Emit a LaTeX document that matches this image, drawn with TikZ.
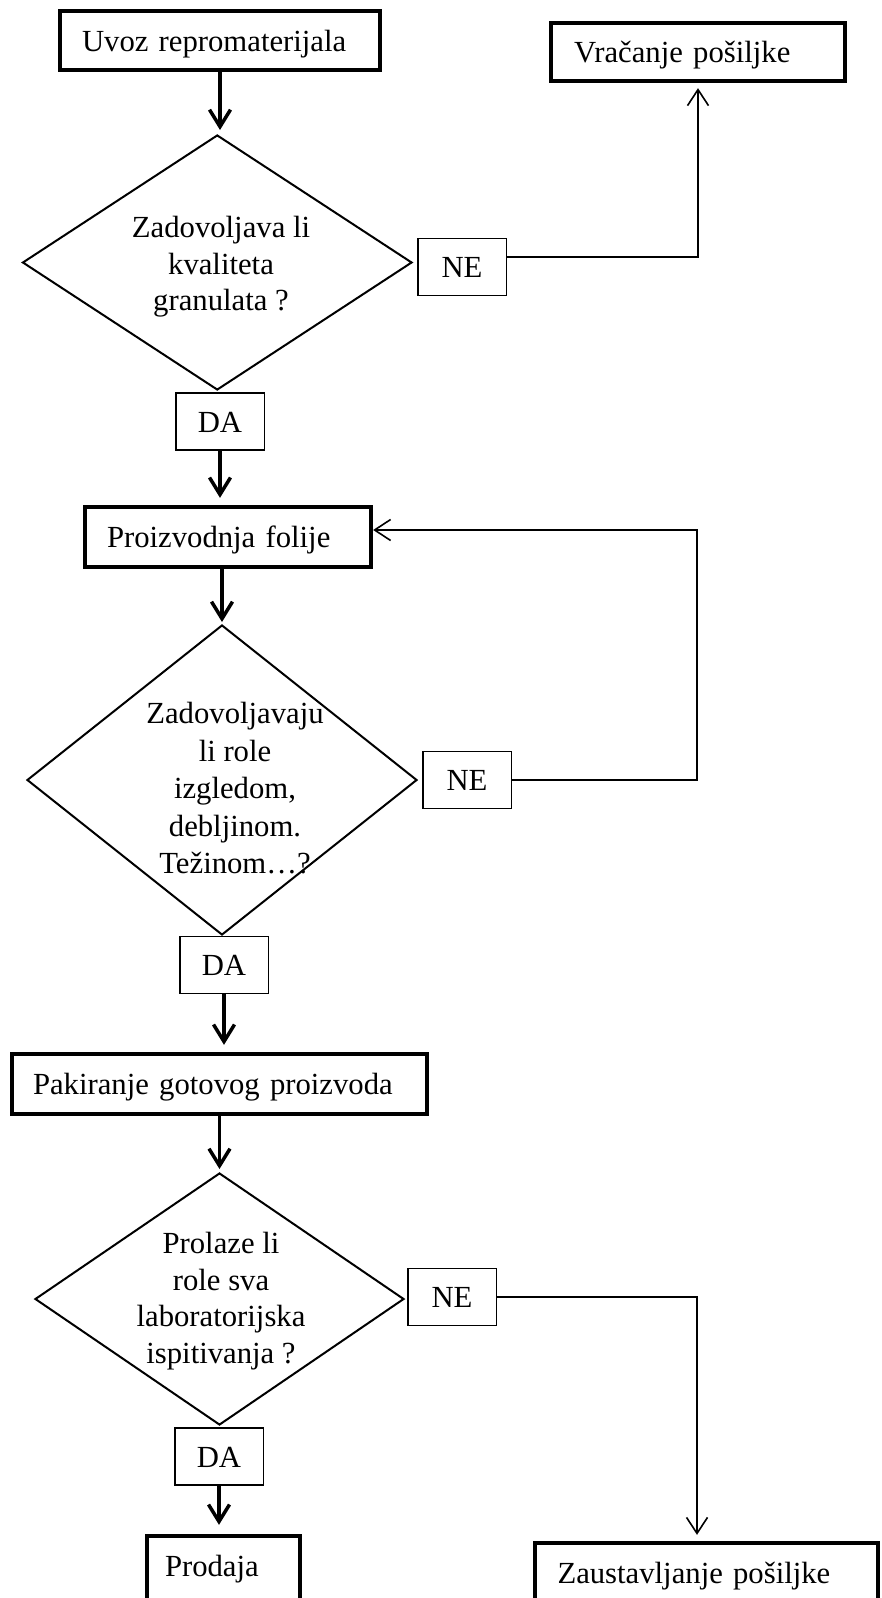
\documentclass[tikz,border=0pt]{standalone}
\usepackage{fontspec}
\setmainfont{Liberation Serif}
\usetikzlibrary{shapes.geometric,arrows.meta}
\begin{document}
\begin{tikzpicture}[x=1pt,y=-1pt,
  font=\fontsize{30.7}{36.5}\selectfont,
  bigbox/.style={draw, rectangle, line width=4.3pt, inner xsep=22pt, inner ysep=0pt,
    align=left, text height=28pt, text depth=7pt, minimum height=60pt},
  tagbox/.style={draw, rectangle, line width=1.5pt, inner sep=0pt,
    minimum width=88.5pt, minimum height=57pt, text height=28pt, text depth=7pt},
  decision/.style={draw, diamond, line width=2pt, inner sep=0pt},
  qtext/.style={align=center, anchor=north, inner sep=0pt},
  flow/.style={line width=3.5pt, -{Straight Barb[length=17pt,width=21pt]}},
  back/.style={line width=1.6pt, -{Straight Barb[length=16pt,width=21pt]}}]
\useasboundingbox (0,0) rectangle (881,1598);
\clip (0,0) rectangle (881,1598);

% process boxes
\node[bigbox, text width=276pt, minimum height=59pt] (uvoz) at (220,40.5) {Uvoz repromaterijala};
\node[bigbox, inner xsep=23pt, text width=248pt, minimum height=58pt] (vrac) at (698,52) {Vračanje pošiljke};
\node[bigbox, text width=242pt] (proiz) at (228,537) {Proizvodnja folije};
\node[bigbox, inner xsep=21pt, text width=373pt] (pak) at (219.5,1084) {Pakiranje gotovog proizvoda};
\node[bigbox, inner xsep=18pt, text width=117pt, minimum height=66pt, text depth=14pt] (prod) at (223.5,1569) {Prodaja};
\node[bigbox, inner xsep=22.5pt, text width=298pt, minimum height=66pt, text depth=14pt] (zaus) at (706.5,1576) {Zaustavljanje pošiljke};

% decisions
\node[decision, minimum width=389.5pt, minimum height=255pt] (d1) at (217.25,262.5) {};
\node[decision, minimum width=390pt, minimum height=310pt] (d2) at (222,780) {};
\node[decision, minimum width=369pt, minimum height=252pt] (d3) at (219.5,1299) {};
\node[qtext] (q1) at (221,216) {Zadovoljava li\\kvaliteta\\granulata ?};
\node[qtext, font=\fontsize{30.7}{37.5}\selectfont] (q2) at (235,702) {Zadovoljavaju\\li role\\izgledom,\\debljinom.\\Težinom…?};
\node[qtext] (q3) at (221,1232) {Prolaze li\\role sva\\laboratorijska\\ispitivanja ?};

% answer tags
\node[tagbox] (ne1) at (462,267) {NE};
\node[tagbox] (ne2) at (467,780) {NE};
\node[tagbox] (ne3) at (452,1297) {NE};
\node[tagbox] (da1) at (220,421.5) {DA};
\node[tagbox] (da2) at (224,965) {DA};
\node[tagbox] (da3) at (219,1456.5) {DA};

% main flow
\draw[flow, shorten >=4pt] (uvoz.south) -- (uvoz.south |- d1.north);
\draw[flow, shorten >=7pt] (da1.south) -- (da1.south |- proiz.north);
\draw[flow, shorten >=2pt] (d2.north |- proiz.south) -- (d2.north);
\draw[flow, shorten >=7pt] (da2.south) -- (da2.south |- pak.north);
\draw[flow, shorten >=3pt] (d3.north |- pak.south) -- (d3.north);
\draw[flow, shorten >=9pt] (da3.south) -- (da3.south |- prod.north);

% NE branches
\draw[back, shorten >=5pt] ([yshift=10pt]ne1.east) -| (vrac.south);
\coordinate (fb) at (697,530);
\draw[back] (ne2.east) -| (fb) -- (fb -| proiz.east);
\coordinate (c3) at (697,1297);
\draw[back, shorten >=6pt] (ne3.east) -- (c3) -- (c3 |- zaus.north);
\end{tikzpicture}
\end{document}
